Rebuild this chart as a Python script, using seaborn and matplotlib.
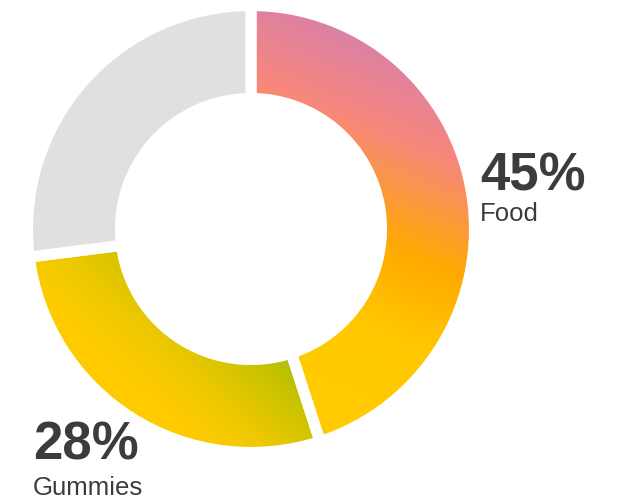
import numpy as np
import matplotlib
matplotlib.use("Agg")
import matplotlib.pyplot as plt
import seaborn as sns
from matplotlib.colors import LinearSegmentedColormap

# Data
categories = ["Food", "Gummies", "Other"]
shares = [45, 28, 27]
show_label = [True, True, False]

sns.set_theme(style="white")
plt.rcParams['font.family'] = ['Liberation Sans', 'DejaVu Sans']

W, H = 622, 499
fig = plt.figure(figsize=(W / 100, H / 100), dpi=100)
ax = fig.add_axes([0, 0, 1, 1])

cx, cy = 251, H - 229

# donut; white edge makes the gaps
wedges, _ = ax.pie(shares, startangle=90, counterclock=False, radius=223.5,
                   center=(cx, cy), colors=["none", "none", "#e0e0e0"],
                   wedgeprops=dict(width=93, edgecolor="white", linewidth=8))
for w in wedges:
    w.set_zorder(3)

# gradient fills, clipped to the wedges
xx, yy = np.meshgrid(np.arange(W) + 0.5, np.arange(H) + 0.5)
yref = H - yy

food_cmap = LinearSegmentedColormap.from_list("food", [
    (0.0, "#dc81a4"), (0.2, "#f8877c"), (0.47, "#ffaa00"),
    (0.69, "#ffc800"), (1.0, "#ffcc00")])
gum_cmap = LinearSegmentedColormap.from_list("gum", [
    (0.0, "#ffcc00"), (0.18, "#ffcb00"), (0.48, "#ecc800"),
    (0.74, "#d0c400"), (0.9, "#bcc100"), (1.0, "#a8c040")])

t_food = (-0.39 * xx + 0.92 * yref + 105) / 382
t_gum = (0.685 * xx - 0.728 * yref + 213) / 153

for wedge, t, cmap in [(wedges[0], t_food, food_cmap), (wedges[1], t_gum, gum_cmap)]:
    im = ax.imshow(np.clip(t, 0, 1), cmap=cmap, vmin=0, vmax=1, origin="lower",
                   extent=(0, W, 0, H), interpolation="bilinear", zorder=2)
    im.set_clip_path(wedge)

# labels
label_pos = [(480, 190, 221), (33, 460, 495)]
for cat, val, show, pos in zip(categories, shares, show_label, label_pos + [None]):
    if not show:
        continue
    x, y_big, y_small = pos
    ax.text(x, H - y_big, f"{val}%", fontsize=38, fontweight="bold",
            color="#3c3c3c", ha="left", va="baseline")
    ax.text(x, H - y_small, cat, fontsize=18.5, color="#3c3c3c",
            ha="left", va="baseline")

ax.set_xlim(0, W)
ax.set_ylim(0, H)
ax.set_aspect("equal")
ax.axis("off")

fig.savefig("out.png", dpi=100)
